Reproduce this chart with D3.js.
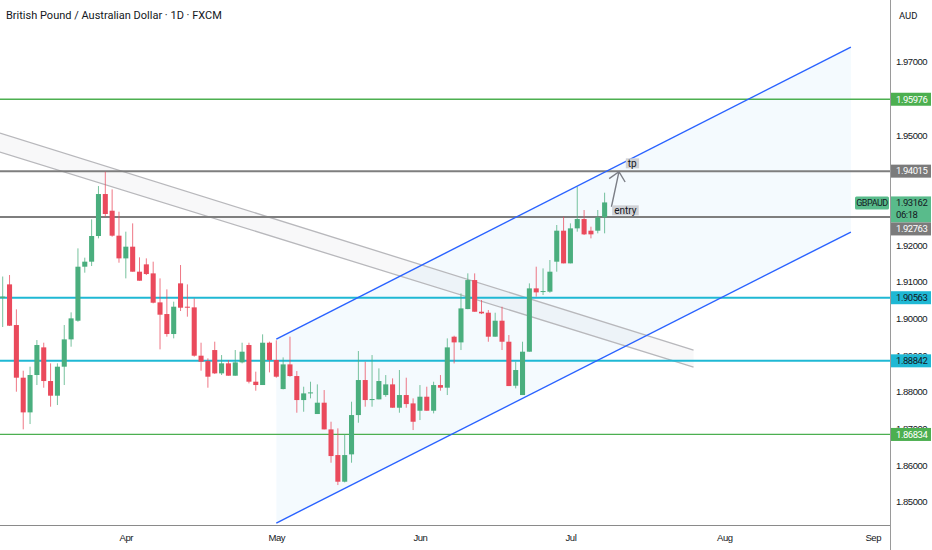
<!DOCTYPE html>
<html>
<head>
<meta charset="utf-8">
<title>GBPAUD 1D</title>
<script src="https://cdn.jsdelivr.net/npm/d3@7"></script>
<style>
  body { margin: 0; background: #fff; }
  svg { display: block; font-family: Roboto, sans-serif; }
  .axis text, .tag { font-size: 9.5px; letter-spacing: -0.45px; fill: #131722; }
  .axis path { display: none; }
</style>
</head>
<body>
<script>
// daily bars, index 0 = first visible bar (early March)
var opens = [1.90555, 1.90927, 1.89818, 1.88382, 1.87436, 1.88455, 1.89209, 1.88291, 1.87891, 1.88682,
  1.89427, 1.89936, 1.91409, 1.91546, 1.92246, 1.93391, 1.92936, 1.92255, 1.91636, 1.91955,
  1.91273, 1.91473, 1.91227, 1.90436, 1.90118, 1.89573, 1.90955, 1.90318, 1.90300, 1.88982,
  1.88836, 1.89136, 1.88500, 1.88773, 1.88436, 1.88800, 1.89273, 1.88273, 1.88182, 1.89336,
  1.88864, 1.88072, 1.88745, 1.88427, 1.87772, 1.87972, 1.87391, 1.87700, 1.86972, 1.86272,
  1.85545, 1.86291, 1.87363, 1.88318, 1.87772, 1.87791, 1.87909, 1.88200, 1.87563, 1.87909,
  1.87681, 1.87481, 1.87863, 1.87481, 1.88181, 1.88109, 1.89500, 1.89345, 1.90254, 1.91045,
  1.90181, 1.90154, 1.89500, 1.89936, 1.89363, 1.88163, 1.87909, 1.89091, 1.90818, 1.90727,
  1.90728, 1.91546, 1.92391, 1.91500, 1.92455, 1.92709, 1.92391, 1.92391, 1.92755];
var highs = [1.91141, 1.91182, 1.90246, 1.88573, 1.88682, 1.89409, 1.89336, 1.88773, 1.88773, 1.89818,
  1.90164, 1.91909, 1.91655, 1.92700, 1.93609, 1.94000, 1.93518, 1.92909, 1.92364, 1.92591,
  1.91664, 1.91636, 1.91546, 1.91091, 1.90791, 1.90455, 1.91455, 1.90927, 1.90546, 1.89336,
  1.88909, 1.89364, 1.89000, 1.88864, 1.89136, 1.89336, 1.89336, 1.88546, 1.89564, 1.89364,
  1.89400, 1.88936, 1.89500, 1.88563, 1.88136, 1.88272, 1.88200, 1.88045, 1.87181, 1.87000,
  1.86845, 1.87727, 1.89109, 1.88818, 1.89000, 1.88636, 1.88454, 1.88363, 1.88591, 1.88381,
  1.87818, 1.88181, 1.88136, 1.88272, 1.88454, 1.89454, 1.89527, 1.90681, 1.91227, 1.91227,
  1.90500, 1.90227, 1.90154, 1.90318, 1.89545, 1.88818, 1.89363, 1.90954, 1.91409, 1.91363,
  1.91591, 1.92546, 1.92773, 1.92591, 1.93591, 1.92955, 1.92500, 1.92955, 1.93428];
var lows = [1.89764, 1.89791, 1.88000, 1.86973, 1.87118, 1.88182, 1.88109, 1.87591, 1.87636, 1.88182,
  1.89227, 1.89909, 1.91246, 1.91427, 1.92182, 1.92773, 1.92227, 1.91518, 1.91091, 1.91273,
  1.91027, 1.91182, 1.90409, 1.89155, 1.89500, 1.89455, 1.90200, 1.90046, 1.88955, 1.88573,
  1.88109, 1.88482, 1.88455, 1.88436, 1.88436, 1.88773, 1.88227, 1.88027, 1.88182, 1.88527,
  1.88382, 1.88063, 1.88409, 1.87427, 1.87454, 1.87818, 1.87391, 1.86972, 1.86063, 1.85454,
  1.85527, 1.86063, 1.87154, 1.87591, 1.87591, 1.87791, 1.87863, 1.87563, 1.87427, 1.87563,
  1.86954, 1.87227, 1.87481, 1.87409, 1.88027, 1.87909, 1.88772, 1.89136, 1.90250, 1.90181,
  1.90118, 1.89363, 1.89500, 1.89136, 1.88154, 1.88091, 1.87909, 1.89091, 1.90591, 1.90636,
  1.90700, 1.91273, 1.91500, 1.91500, 1.92364, 1.92273, 1.92182, 1.92319, 1.92319];
var closes = [1.90595, 1.89800, 1.88382, 1.87436, 1.88455, 1.89273, 1.88291, 1.87891, 1.88682, 1.89427,
  1.90000, 1.91409, 1.91546, 1.92246, 1.93391, 1.92846, 1.92255, 1.91636, 1.91955, 1.91273,
  1.91027, 1.91209, 1.90427, 1.90100, 1.89573, 1.90318, 1.90291, 1.90300, 1.88982, 1.88818,
  1.88409, 1.88500, 1.88773, 1.88436, 1.88800, 1.89091, 1.88273, 1.88182, 1.89336, 1.88864,
  1.88409, 1.88745, 1.88427, 1.87772, 1.87954, 1.87981, 1.87700, 1.86972, 1.86245, 1.85545,
  1.86272, 1.87363, 1.88318, 1.87772, 1.87800, 1.88291, 1.88200, 1.87563, 1.87909, 1.87663,
  1.87181, 1.87863, 1.87481, 1.88181, 1.88109, 1.89209, 1.89345, 1.90272, 1.91045, 1.90181,
  1.90136, 1.89500, 1.89936, 1.89363, 1.88154, 1.88591, 1.89091, 1.90818, 1.90709, 1.90745,
  1.91273, 1.92391, 1.91500, 1.92455, 1.92709, 1.92291, 1.92291, 1.92755, 1.93162];

var monthLabels = ["Apr", "May", "Jun", "Jul", "Aug", "Sep"];
var monthBars = [18, 40, 61, 83, 105.5, 127.2];

// price labels the scale shows (the rest sit under the level tags)
var priceTicks = [1.85, 1.86, 1.87, 1.88, 1.89, 1.90, 1.91, 1.92, 1.95, 1.97];

// horizontal levels drawn on the chart
var levelPrices = [1.95976, 1.94015, 1.92763, 1.90563, 1.88842, 1.86834];
var levelKinds = ["green", "gray", "gray", "cyan", "cyan", "green"];

// rising channel (bar index, price)
var channelTop = [[40, 1.89436], [124, 1.97400]];
var channelBottom = [[40, 1.84418], [124, 1.92355]];

// falling band from the top left
var bandTop = [[-0.4, 1.95055], [101, 1.89136]];
var bandBottom = [[-0.4, 1.94536], [101, 1.88673]];

// entry -> tp arrow and its notes
var arrowPoints = [[89.0, 1.93044], [90.1, 1.94000]];
var notes = [{text: "tp", bar: 91.1, price: 1.94228}, {text: "entry", bar: 89.1, price: 1.92946}];

var symbol = "GBPAUD", lastPrice = 1.93162, countdown = "06:18";

var W = 932, H = 550, plotW = 890, plotH = 525;

var kindStyle = {
  green: {line: "#4caf50", box: "#4caf50", text: "#ffffff", width: 1.3},
  gray: {line: "#7e7e7e", box: "#7b7b7b", text: "#ffffff", width: 2},
  cyan: {line: "#1fb8d4", box: "#1fb8d4", text: "#131722", width: 2}
};
var upColor = "#4aae7e", downColor = "#ea4a5c";

var x = d3.scaleLinear().domain([0, 130]).range([2.7, 2.7 + 130 * 6.84]);
var y = d3.scaleLinear().domain([1.85, 1.97]).range([501.7, 61.7]);
var step = x(1) - x(0);

var svg = d3.select("body").append("svg")
    .attr("width", W)
    .attr("height", H);

svg.append("defs").append("clipPath").attr("id", "plot")
  .append("rect").attr("width", plotW).attr("height", plotH);

var plot = svg.append("g").attr("clip-path", "url(#plot)");

function pt(d) { return [x(d[0]), y(d[1])]; }

// channel fill
plot.append("path")
    .attr("d", d3.line()([pt(channelTop[0]), pt(channelTop[1]), pt(channelBottom[1]), pt(channelBottom[0])]) + "Z")
    .attr("fill", "rgba(33,150,243,0.05)");

// falling band fill
plot.append("path")
    .attr("d", d3.line()([pt(bandTop[0]), pt(bandTop[1]), pt(bandBottom[1]), pt(bandBottom[0])]) + "Z")
    .attr("fill", "rgba(120,123,134,0.05)");

[bandTop, bandBottom].forEach(function(l) {
  plot.append("path")
      .attr("d", d3.line()(l.map(pt)))
      .attr("stroke", "#b8b8bc")
      .attr("stroke-width", 1.3)
      .attr("fill", "none");
});

// horizontal levels
plot.selectAll("line.level")
    .data(levelPrices)
  .enter().append("line")
    .attr("class", "level")
    .attr("x1", 0).attr("x2", plotW)
    .attr("y1", function(d) { return y(d); })
    .attr("y2", function(d) { return y(d); })
    .attr("stroke", function(d, i) { return kindStyle[levelKinds[i]].line; })
    .attr("stroke-width", function(d, i) { return kindStyle[levelKinds[i]].width; });

// candles
var bars = d3.range(opens.length);
var candle = plot.selectAll("g.candle")
    .data(bars)
  .enter().append("g")
    .attr("class", "candle");

candle.append("line")
    .attr("x1", function(i) { return x(i); })
    .attr("x2", function(i) { return x(i); })
    .attr("y1", function(i) { return y(highs[i]); })
    .attr("y2", function(i) { return y(lows[i]); })
    .attr("stroke", function(i) { return closes[i] >= opens[i] ? upColor : downColor; })
    .attr("stroke-opacity", 0.75)
    .attr("stroke-width", 1);

candle.append("rect")
    .attr("x", function(i) { return x(i) - step * 0.37; })
    .attr("width", step * 0.74)
    .attr("y", function(i) { return y(Math.max(opens[i], closes[i])); })
    .attr("height", function(i) { return Math.max(1, Math.abs(y(opens[i]) - y(closes[i]))); })
    .attr("fill", function(i) { return closes[i] >= opens[i] ? upColor : downColor; });

// rising channel lines
[channelTop, channelBottom].forEach(function(l) {
  plot.append("path")
      .attr("d", d3.line()(l.map(pt)))
      .attr("stroke", "#2962ff")
      .attr("stroke-width", 1.4)
      .attr("fill", "none");
});

// arrow
var a0 = pt(arrowPoints[0]), a1 = pt(arrowPoints[1]);
var ang = Math.atan2(a0[1] - a1[1], a0[0] - a1[0]);
var head = [-0.75, 0.75].map(function(o) {
  return [a1[0] + 12 * Math.cos(ang + o), a1[1] + 12 * Math.sin(ang + o)];
});
plot.append("path")
    .attr("d", d3.line()([a0, a1]) + "M" + head[0] + "L" + a1 + "L" + head[1])
    .attr("stroke", "#7b7e86")
    .attr("stroke-width", 1.4)
    .attr("fill", "none");

// notes
var note = plot.selectAll("g.note")
    .data(notes)
  .enter().append("g")
    .attr("class", "note")
    .attr("transform", function(d) { return "translate(" + x(d.bar) + "," + y(d.price) + ")"; });
note.append("text")
    .attr("x", 2)
    .attr("dy", "0.35em")
    .attr("font-size", 10)
    .attr("fill", "#131722")
    .text(function(d) { return d.text; })
    .each(function() {
      var b = this.getBBox();
      d3.select(this.parentNode).insert("rect", "text")
          .attr("x", b.x - 2).attr("y", -5)
          .attr("width", b.width + 4).attr("height", 10)
          .attr("fill", "#cfd1d6");
    });

// axis borders
svg.append("line").attr("x1", plotW + 0.5).attr("x2", plotW + 0.5).attr("y1", 0).attr("y2", H)
    .attr("stroke", "#9a9a9a");
svg.append("line").attr("x1", 0).attr("x2", plotW).attr("y1", plotH + 0.5).attr("y2", plotH + 0.5)
    .attr("stroke", "#8a8a8a");

// price axis
svg.append("g")
    .attr("class", "axis")
    .attr("transform", "translate(" + plotW + ",0)")
    .call(d3.axisRight(y).tickValues(priceTicks).tickSize(0).tickPadding(6).tickFormat(d3.format(".5f")));

// time axis
svg.append("g")
    .attr("class", "axis")
    .attr("transform", "translate(0," + plotH + ")")
    .call(d3.axisBottom(x).tickValues(monthBars).tickSize(0).tickPadding(9)
      .tickFormat(function(d, i) { return monthLabels[i]; }));

// last price tag
var ly = y(lastPrice);
var tags = svg.append("g");
tags.append("rect").attr("x", 855).attr("y", ly - 6).attr("width", 34).attr("height", 13)
    .attr("rx", 1.5).attr("fill", "#59bb8b");
tags.append("text").attr("class", "tag").attr("x", 872).attr("y", ly + 0.5).attr("dy", "0.35em")
    .attr("text-anchor", "middle").style("font-size", "9px").text(symbol);
tags.append("rect").attr("x", plotW + 1).attr("y", ly - 6).attr("width", 40).attr("height", 26)
    .attr("fill", "#59bb8b");
tags.append("text").attr("class", "tag").attr("x", 896).attr("y", ly + 0.5).attr("dy", "0.35em")
    .text(d3.format(".5f")(lastPrice));
tags.append("text").attr("class", "tag").attr("x", 896).attr("y", ly + 12.5).attr("dy", "0.35em")
    .text(countdown);

// level tags, pushed below the last price tag when they collide
levelPrices.forEach(function(p, i) {
  var cy = y(p);
  if (cy + 6.5 > ly - 6 && cy - 6.5 < ly + 20) cy = ly + 20 + 6.5;
  var s = kindStyle[levelKinds[i]];
  tags.append("rect").attr("x", plotW + 1).attr("y", cy - 6.5).attr("width", 40).attr("height", 13)
      .attr("fill", s.box);
  tags.append("text").attr("class", "tag").attr("x", 896).attr("y", cy).attr("dy", "0.35em")
      .style("fill", s.text).text(d3.format(".5f")(p));
});

// titles
svg.append("text").attr("x", 6).attr("y", 19).attr("font-size", 11).attr("fill", "#131722")
    .text("British Pound / Australian Dollar · 1D · FXCM");
svg.append("text").attr("x", 899).attr("y", 19).attr("font-size", 9.5).attr("fill", "#131722")
    .text("AUD");
</script>
</body>
</html>
